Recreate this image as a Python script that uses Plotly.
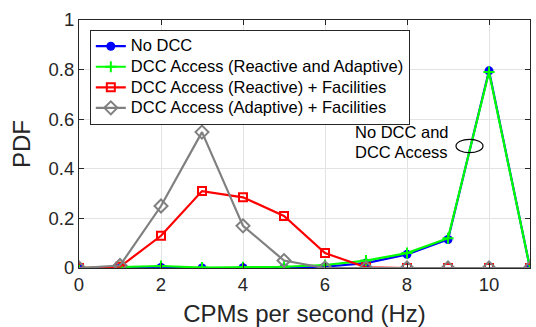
import plotly.graph_objects as go

cpm_rate = list(range(0, 12))
no_dcc = [0, 0, 0.002, 0, 0.001, 0, 0.005, 0.02, 0.055, 0.115, 0.795, 0]
dcc_access = [0, 0.003, 0.008, 0.002, 0.003, 0.005, 0.012, 0.03, 0.06, 0.12, 0.79, 0]
dcc_reactive_fac = [0, 0.005, 0.13, 0.31, 0.285, 0.21, 0.06, 0.003, 0, 0, 0, 0]
dcc_adaptive_fac = [0, 0.01, 0.25, 0.548, 0.17, 0.03, 0, 0, 0, 0, 0, 0]

series_names = [
    "No DCC",
    "DCC Access (Reactive and Adaptive)",
    "DCC Access (Reactive) + Facilities",
    "DCC Access (Adaptive) + Facilities",
]

font_family = "Liberation Sans, Arial, sans-serif"


def legend_label(name):
    # larger glyphs than the legend's base size, which sets the row pitch
    return f"<span style='font-size:16.5px'>{name}</span>"


fig = go.Figure()
fig.add_trace(go.Scatter(
    x=cpm_rate, y=no_dcc, name=legend_label(series_names[0]), mode="lines+markers",
    line=dict(color="#0000ff", width=2.2),
    marker=dict(symbol="circle", size=9, color="#0000ff"),
))
fig.add_trace(go.Scatter(
    x=cpm_rate, y=dcc_access, name=legend_label(series_names[1]), mode="lines+markers",
    line=dict(color="#00ff00", width=2.2),
    marker=dict(symbol="cross-thin", size=8, line=dict(color="#00ff00", width=2)),
))
fig.add_trace(go.Scatter(
    x=cpm_rate, y=dcc_reactive_fac, name=legend_label(series_names[2]), mode="lines+markers",
    line=dict(color="#ff0000", width=2.2),
    marker=dict(symbol="square-open", size=8, color="#ff0000", line=dict(width=2)),
))
fig.add_trace(go.Scatter(
    x=cpm_rate, y=dcc_adaptive_fac, name=legend_label(series_names[3]), mode="lines+markers",
    line=dict(color="#808080", width=2.2),
    marker=dict(symbol="diamond-open", size=10, color="#808080", line=dict(width=2)),
))

axis_common = dict(
    showgrid=True, gridcolor="#e3e3e3", gridwidth=1,
    showline=True, linecolor="#262626", linewidth=1, mirror="ticks",
    ticks="inside", ticklen=5, tickcolor="#262626",
    tickfont=dict(family=font_family, size=18.5, color="#262626"),
    zeroline=False, automargin=False,
)

fig.update_xaxes(
    range=[0, 11], tickvals=[0, 2, 4, 6, 8, 10],
    title=dict(text="CPMs per second (Hz)", standoff=14,
               font=dict(family=font_family, size=24, color="#262626")),
    **axis_common,
)
fig.update_yaxes(
    range=[0, 1], tickvals=[0, 0.2, 0.4, 0.6, 0.8, 1],
    ticktext=["0", "0.2", "0.4", "0.6", "0.8", "1"],
    title=dict(text="PDF", standoff=11,
               font=dict(family=font_family, size=24, color="#262626")),
    **axis_common,
)

# Callout pointing at the overlapping No DCC / DCC Access curves
for text, y in [("No DCC and", 0.5496), ("DCC Access", 0.469)]:
    fig.add_annotation(
        x=6.68, y=y, xref="x", yref="y", text=text,
        showarrow=False, xanchor="left", yanchor="middle", align="left",
        font=dict(family=font_family, size=16.5, color="#000000"),
    )
fig.add_shape(
    type="circle", xref="x", yref="y",
    x0=9.195, x1=9.854, y0=0.465, y1=0.519,
    line=dict(color="#000000", width=1.2),
)

fig.update_layout(
    width=536, height=327,
    margin=dict(l=79, r=6, t=20, b=59),
    paper_bgcolor="white", plot_bgcolor="white",
    showlegend=True,
    legend=dict(
        x=0.024, y=0.96, xanchor="left", yanchor="top",
        bgcolor="white", bordercolor="#262626", borderwidth=1,
        font=dict(family=font_family, size=13.5, color="#000000"),
        tracegroupgap=0, itemwidth=30,
    ),
)

fig.write_html("out.html")
